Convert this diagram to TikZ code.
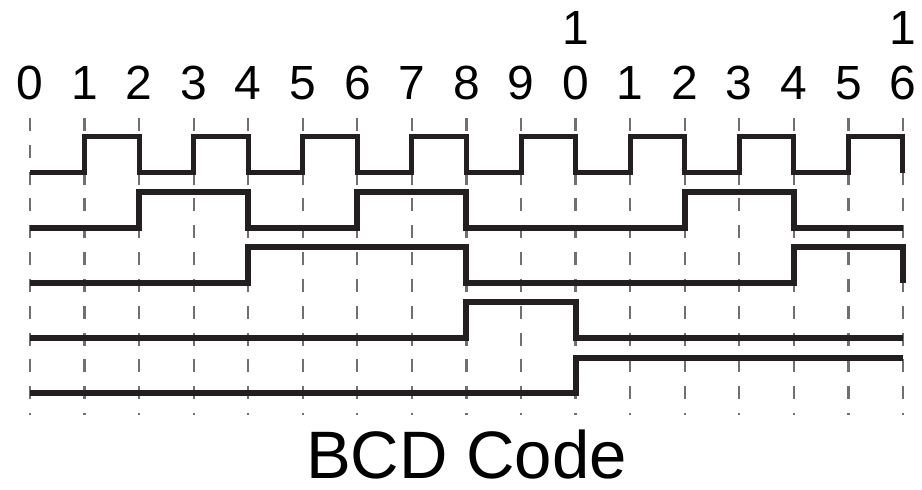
\documentclass[tikz,border=0pt]{standalone}
\usepackage{fontspec}
\setmainfont{Liberation Sans}
\usepackage{xcolor}
\definecolor{gridgray}{HTML}{707070}
\definecolor{ink}{HTML}{231F20}
\usetikzlibrary{positioning}

\begin{document}
\begin{tikzpicture}[
  x=1cm, y=1cm,
  wave/.style={ink, line width=3.1pt, line join=miter},
  thinwave/.style={wave, line width=2.6pt},
  gridline/.style={gridgray, line width=1.2pt, dash pattern=on 6.8pt off 7.2pt},
  digit/.style={inner sep=0pt, font=\fontsize{25}{30}\selectfont},
  caption/.style={inner sep=0pt, font=\fontsize{35}{42}\selectfont}
]
\useasboundingbox (-0.55,0) rectangle (16.35,8.98);

% Grid
\foreach \i in {0,...,16}
  \draw[gridline] (\i,6.82) -- (\i,1.37);

% Count labels
\foreach \i in {0,...,16} {
  \pgfmathtruncatemacro{\d}{mod(\i,10)}
  \node[digit] (lbl\i) at (\i,7.46) {\d};
}
\node[digit, above=0.38cm of lbl10] (tens10) {1};
\node[digit, above=0.38cm of lbl16] (tens16) {1};

% Waveforms
\draw[thinwave] (0,5.81)
  \foreach \i in {1,3,...,15} { -- (\i,5.81) -- (\i,6.47) -- (\i+1,6.47) -- (\i+1,5.81) };
\draw[wave] (0,4.80) -- (2,4.80) -- (2,5.46) -- (4,5.46) -- (4,4.80) -- (6,4.80)
  -- (6,5.46) -- (8,5.46) -- (8,4.80) -- (12,4.80) -- (12,5.46) -- (14,5.46)
  -- (14,4.80) -- (16,4.80);
\draw[wave] (0,3.79) -- (4,3.79) -- (4,4.45) -- (8,4.45) -- (8,3.79) -- (14,3.79)
  -- (14,4.45) -- (16,4.45) -- (16,3.79);
\draw[wave] (0,2.79) -- (8,2.79) -- (8,3.45) -- (10,3.45) -- (10,2.79) -- (16,2.79);
\draw[wave] (0,1.78) -- (10,1.78) -- (10,2.42) -- (16,2.42);

% Caption
\node[caption] (title) at (8,0.64) {BCD Code};

\end{tikzpicture}
\end{document}
